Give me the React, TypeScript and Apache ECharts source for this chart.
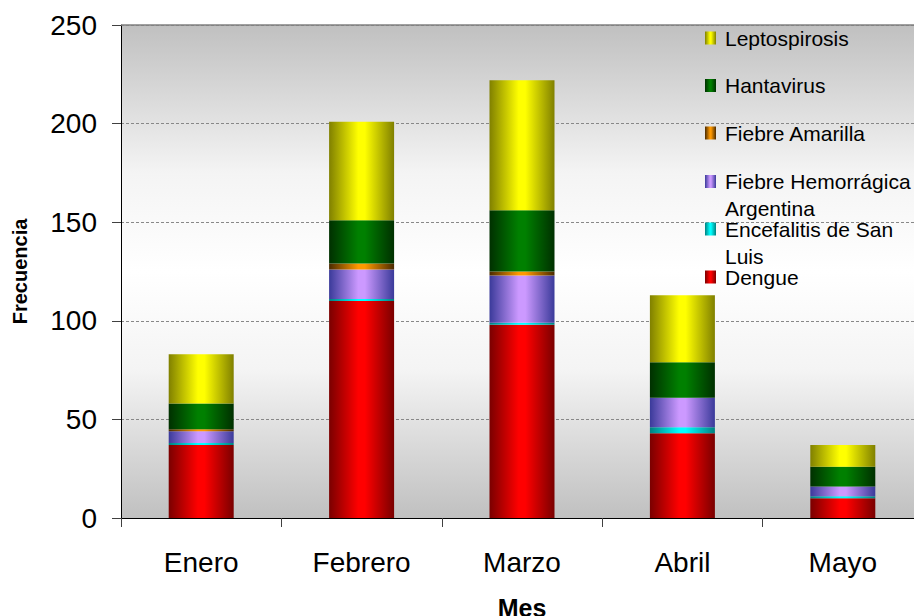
import React, { useEffect, useRef } from 'react';
import * as echarts from 'echarts';

const categories = ['Enero', 'Febrero', 'Marzo', 'Abril', 'Mayo'];
const dengue = [37, 110, 98, 43, 10];
const encefalitis = [1, 1, 1, 3, 1];
const fiebreHemorragica = [6, 15, 24, 15, 5];
const fiebreAmarilla = [1, 3, 2, 0, 0];
const hantavirus = [13, 22, 31, 18, 10];
const leptospirosis = [25, 50, 66, 34, 11];

const FONT = "'Liberation Sans', Arial, sans-serif";

const grad = (edge: string, center: string) =>
  new echarts.graphic.LinearGradient(0, 0, 1, 0, [
    { offset: 0, color: edge },
    { offset: 0.45, color: center },
    { offset: 0.55, color: center },
    { offset: 1, color: edge },
  ]);

const seriesDefs = [
  { name: 'Dengue', data: dengue, edge: '#7a0000', center: '#ff0000', lines: ['Dengue'], cy: 277 },
  { name: 'Encefalitis de San Luis', data: encefalitis, edge: '#008080', center: '#00ffff', lines: ['Encefalitis de San', 'Luis'], cy: 229 },
  { name: 'Fiebre Hemorrágica Argentina', data: fiebreHemorragica, edge: '#3a3a9a', center: '#cc99ff', lines: ['Fiebre Hemorrágica', 'Argentina'], cy: 181.5 },
  { name: 'Fiebre Amarilla', data: fiebreAmarilla, edge: '#4a2a00', center: '#ff9900', lines: ['Fiebre Amarilla'], cy: 133 },
  { name: 'Hantavirus', data: hantavirus, edge: '#003000', center: '#008000', lines: ['Hantavirus'], cy: 85.5 },
  { name: 'Leptospirosis', data: leptospirosis, edge: '#808000', center: '#ffff00', lines: ['Leptospirosis'], cy: 38 },
];

export default function App() {
  const ref = useRef<HTMLDivElement>(null);
  useEffect(() => {
    if (!ref.current) return;
    const chart = echarts.init(ref.current, undefined, { renderer: 'svg' });
    const legends = seriesDefs.map((s) => {
      const multi = s.lines.length > 1;
      return {
        show: true,
        orient: 'vertical',
        left: 705,
        top: multi ? s.cy - 40.5 : s.cy - 13.5,
        padding: 0,
        data: [s.name],
        icon: 'rect',
        itemWidth: 11,
        itemHeight: 13,
        selectedMode: false,
        formatter: () => (multi ? s.lines.map((l) => `{t|${l}}`).join('\n') : s.lines[0]),
        textStyle: {
          fontFamily: FONT,
          fontSize: 21,
          lineHeight: 27,
          color: '#000',
          padding: multi ? [27, 0, 0, 4] : [0, 0, 0, 4],
          rich: {
            t: { fontFamily: FONT, fontSize: 21, lineHeight: 27, color: '#000' },
          },
        },
      };
    });
    chart.setOption({
      animation: false,
      textStyle: { fontFamily: FONT },
      grid: {
        left: 121,
        top: 25,
        bottom: 98,
        right: -9,
        show: true,
        borderWidth: 0,
        outerBoundsMode: 'none',
        backgroundColor: new echarts.graphic.LinearGradient(0, 0, 0, 1, [
          { offset: 0, color: '#c0c0c0' },
          { offset: 0.3, color: '#f4f4f4' },
          { offset: 0.5, color: '#ffffff' },
          { offset: 0.7, color: '#f4f4f4' },
          { offset: 1, color: '#c0c0c0' },
        ]),
        containLabel: false,
      },
      legend: legends,
      xAxis: {
        type: 'category',
        data: categories,
        name: 'Mes',
        nameLocation: 'middle',
        nameGap: 77,
        nameTextStyle: { fontFamily: FONT, fontSize: 25, fontWeight: 'bold', color: '#000' },
        axisLine: { lineStyle: { color: '#000', width: 1 } },
        axisTick: { show: true, length: 9, lineStyle: { color: '#404040' } },
        axisLabel: { fontFamily: FONT, fontSize: 28, color: '#000', margin: 30 },
      },
      yAxis: {
        type: 'value',
        min: 0,
        max: 250,
        interval: 50,
        name: 'Frecuencia',
        nameLocation: 'middle',
        nameGap: 91,
        nameTextStyle: { fontFamily: FONT, fontSize: 20, fontWeight: 'bold', color: '#000' },
        axisLine: { show: true, lineStyle: { color: '#000', width: 1 } },
        axisTick: { show: true, length: 9, lineStyle: { color: '#404040' } },
        axisLabel: { fontFamily: FONT, fontSize: 28, color: '#000', margin: 24 },
        splitLine: { show: true, lineStyle: { color: '#888888', type: [3, 2], width: 1 } },
      },
      series: seriesDefs.map((s, i) => ({
        name: s.name,
        type: 'bar',
        stack: 'total',
        barWidth: 65,
        data: s.data,
        itemStyle: { color: grad(s.edge, s.center) },
        emphasis: { disabled: true },
        ...(i === seriesDefs.length - 1
          ? {
              markLine: {
                silent: true,
                symbol: 'none',
                label: { show: false },
                lineStyle: { color: '#808080', type: 'solid', width: 1.5 },
                data: [{ yAxis: 250 }],
              },
            }
          : {}),
      })),
    });
    return () => chart.dispose();
  }, []);
  return (
    <div
      ref={ref}
      style={{ position: 'fixed', left: 0, top: 0, width: 914, height: 616, background: '#fff' }}
    />
  );
}
